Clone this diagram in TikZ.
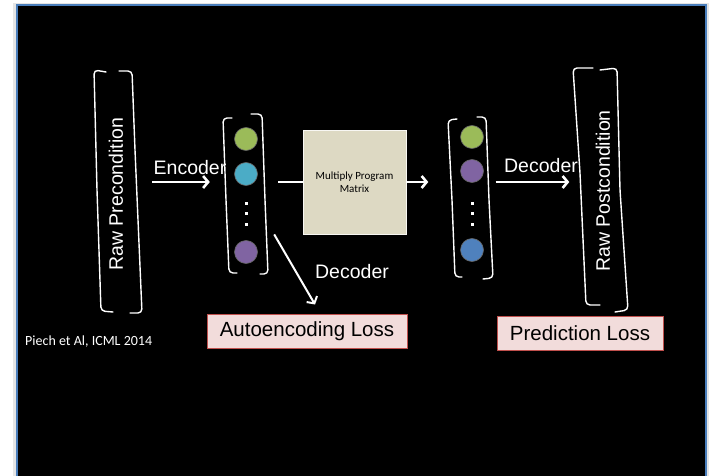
\documentclass[tikz,border=0pt]{standalone}
\usepackage{fontspec}
\setmainfont{Liberation Sans}
\newfontfamily\calibri{Carlito}
\usetikzlibrary{arrows.meta,positioning}
\definecolor{slideblue}{HTML}{4A7EBB}
\definecolor{unitgreen}{HTML}{9BBB59}
\definecolor{unitcyan}{HTML}{4BACC6}
\definecolor{unitpurple}{HTML}{8064A2}
\definecolor{unitblue}{HTML}{4F81BD}
\definecolor{mattan}{HTML}{DDD9C3}
\definecolor{losspink}{HTML}{F2DCDB}
\definecolor{lossred}{HTML}{C0504D}
\begin{document}
\begin{tikzpicture}[x=1pt,y=-1pt,
lbl/.style={%
text=white,
font=\fontsize{19.5}{20}\selectfont,
inner sep=0pt
},
raw/.style={%
lbl,
rotate=90
},
body/.style={%
inner sep=0pt
},
bracket/.style={%
draw=white,
line width=1.4pt,
rounded corners=4pt,
line cap=round
},
flow/.style={%
draw=white,
line width=2.6pt,
-{Straight Barb[length=5pt,width=12pt]}
},
unit/.style={%
circle,
minimum size=23pt,
inner sep=0pt,
draw=black!60,
line width=.6pt
},
loss/.style={%
draw=lossred,
fill=losspink,
line width=1pt,
inner sep=0pt,
minimum height=34pt,
font=\fontsize{20.5}{21}\selectfont
},
]
\useasboundingbox (0,0) rectangle (712,476);
%% Slide
\fill[white] (0,0) rectangle (712,476);
\fill[black!10] (13,3) rectangle (709,476);
\fill[black] (17,5) rectangle (706,476);
\draw[slideblue,line width=1.6pt] (17,476)--(17,5)--(706,5)--(706,476);
%% Bodies
\node[body,minimum width=48pt,minimum height=243pt] (preB) at (118,192) {};
\node[raw] (pre) at (116,194) {Raw Precondition};
\node[body,minimum width=45pt,minimum height=158pt] (vecA) at (245.5,195) {};
\node[draw=white!80!mattan,fill=mattan,line width=.8pt,minimum width=103pt,minimum height=104pt,inner sep=0pt,align=center,font=\calibri\fontsize{11}{13}\selectfont] (mat) at (354.5,182) {Multiply Program\\Matrix};
\node[body,minimum width=45pt,minimum height=160pt] (vecB) at (471,198) {};
\node[body,minimum width=55pt,minimum height=244pt] (postB) at (600,190) {};
\node[raw] (post) at (603,191) {Raw Postcondition};
%% Units
\node[unit,fill=unitgreen] (a1) at (246,139) {};
\node[unit,fill=unitcyan] (a2) at (246,174) {};
\node[unit,fill=unitpurple] (an) at (246,252) {};
\node[unit,fill=unitgreen] (b1) at (472,137) {};
\node[unit,fill=unitpurple] (b2) at (472,171) {};
\node[unit,fill=unitblue] (bn) at (472,250) {};
\foreach \y in {203,213,224}{%
\fill[white] (244.5,{\y-1.5}) rectangle ++(3,3);
\fill[white] (470.5,{\y-1.5}) rectangle ++(3,3);
}
%% Brackets
\draw[bracket] (106,72)--(94,70)--(97,190)--(101,311)--(113,312);
\draw[bracket] (119,71)--(132,71)--(135,150)--(142,313)--(130,313);
\draw[bracket] (232,118)--(223,118)--(226,200)--(229,273)--(237,273);
\draw[bracket] (251,114)--(262,114)--(265,200)--(268,274)--(260,274);
\draw[bracket] (457,119)--(448,120)--(452,200)--(455,277)--(462,277);
\draw[bracket] (477,117)--(486,117)--(489,200)--(493,278)--(483,279);
\draw[bracket] (593,68)--(573,68)--(580,173)--(586,305)--(600,305);
\draw[bracket] (600,70)--(617,68)--(620,190)--(628,310)--(615,312);
%% Losses
\node[loss,minimum width=200pt] (lossA) at (307,331) {Autoencoding Loss};
\node[loss,minimum width=166pt] (lossB) at (580,333) {Prediction Loss};
\node[text=white,font=\calibri\fontsize{14}{14}\selectfont,anchor=west,inner sep=0pt] (cite) at (25,342) {Piech et Al, ICML 2014};
%% Flow
\node[lbl] (encL) at (190,168) {Encoder};
\node[lbl] (decL) at (541,166) {Decoder};
\node[lbl] (autoL) at (352,272) {Decoder};
\draw[flow,shorten <=10pt,shorten >=13pt] (preB.east |- mat) -- (vecA.west |- mat);
\draw[white,line width=2.6pt,shorten <=10pt] (vecA.east |- mat) -- (mat.west);
\draw[flow,shorten >=20pt] (mat.east) -- (vecB.west |- mat);
\draw[flow,shorten <=2pt,shorten >=3pt] (vecB.east |- mat) -- (postB.west |- mat);
\coordinate (decS) at ([xshift=6pt]vecA.east |- mat.south);
\draw[flow,line width=2pt] (decS) -- ([xshift=8pt,yshift=9pt]lossA.north);
\end{tikzpicture}
\end{document}
